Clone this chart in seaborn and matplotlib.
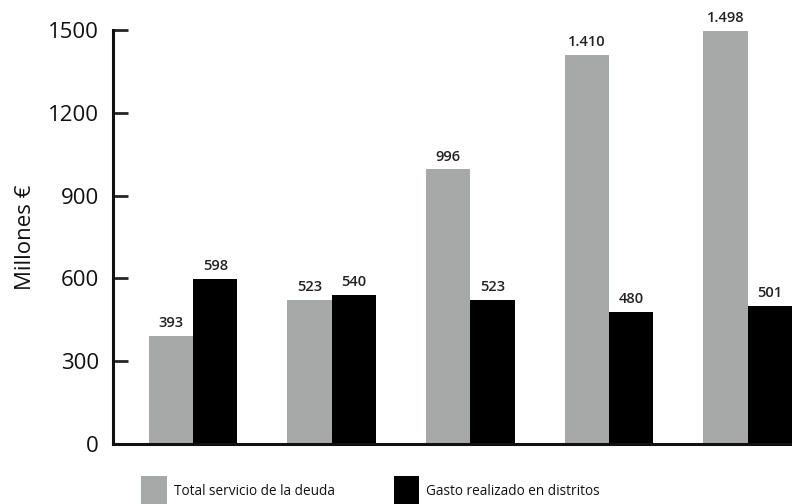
import matplotlib
matplotlib.use("Agg")
import matplotlib.pyplot as plt
import matplotlib.patches as mpatches
import seaborn as sns
import pandas as pd

# datos
grupos = ["1", "2", "3", "4", "5"]
deuda = [393, 523, 996, 1410, 1498]
distritos = [598, 540, 523, 480, 501]
series = ["Total servicio de la deuda", "Gasto realizado en distritos"]
colores = ["#a7a9a9", "#000000"]

df = pd.DataFrame({
    "grupo": grupos * 2,
    "serie": [series[0]] * len(grupos) + [series[1]] * len(grupos),
    "valor": deuda + distritos,
})

sns.set_style("white")
plt.rcParams["font.family"] = ["Open Sans", "DejaVu Sans"]

fig = plt.figure(figsize=(7.92, 5.04), dpi=100)
ax = fig.add_axes([113 / 792, 60 / 504, 1 - 113 / 792, 414 / 504])

sns.barplot(data=df, x="grupo", y="valor", hue="serie", palette=colores,
            width=0.64, saturation=1, legend=False, linewidth=0, ax=ax)

# etiquetas con punto de miles
for cont in ax.containers:
    labels = [f"{int(b.get_height()):,}".replace(",", ".") for b in cont]
    ax.bar_label(cont, labels=labels, padding=4, fontsize=10.5,
                 fontweight="semibold", color="#222222")

ax.set_ylim(0, 1500)
ax.set_xlim(-0.578, 4.32)
ax.set_yticks([0, 300, 600, 900, 1200, 1500])
ax.tick_params(axis="y", direction="in", length=11, width=2, labelsize=16,
               pad=10, left=True, labelcolor="#111111")
ax.tick_params(axis="x", bottom=False, labelbottom=False)
ax.set_xlabel("")
ax.set_ylabel("Millones €", fontsize=16, labelpad=9, color="#111111")
for s in ["top", "right"]:
    ax.spines[s].set_visible(False)
for s in ["left", "bottom"]:
    ax.spines[s].set_linewidth(2.2)
    ax.spines[s].set_color("#111111")

handles = [mpatches.Patch(facecolor=c, edgecolor="none") for c in colores]
fig.legend(handles, series, loc="center", bbox_to_anchor=(0.468, 0.026),
           ncol=2, frameon=False, fontsize=9.8, handlelength=1.9,
           handleheight=3.0, handletextpad=0.5, columnspacing=4.3,
           labelcolor="#111111")

fig.savefig("out.png", dpi=100)
